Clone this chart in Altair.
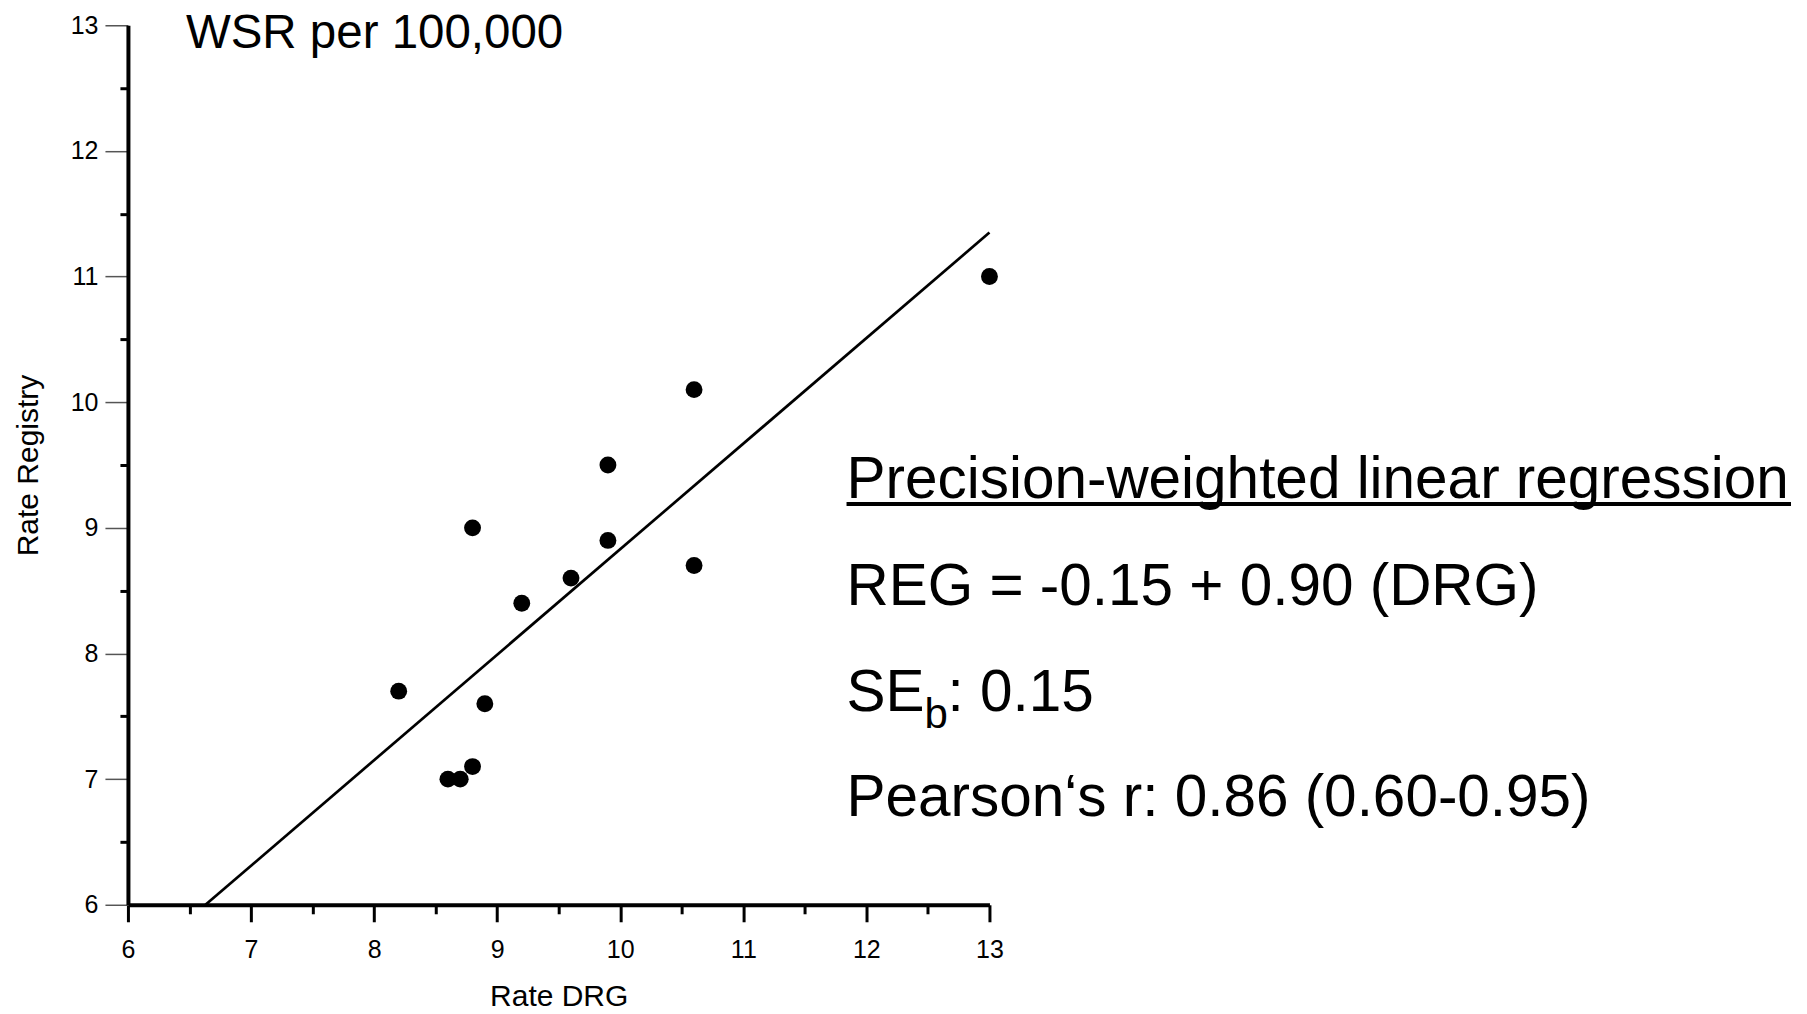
import altair as alt
import pandas as pd

# Data
rate_drg = [13.0, 10.6, 9.9, 8.8, 9.9, 10.6, 9.6, 9.2, 8.2, 8.9, 8.6, 8.7, 8.8]
rate_registry = [11.0, 10.1, 9.5, 9.0, 8.9, 8.7, 8.6, 8.4, 7.7, 7.6, 7.0, 7.0, 7.1]

fit_x = [6.63, 13.0]
fit_y = [6.0, 11.35]

tick_values = [6, 6.5, 7, 7.5, 8, 8.5, 9, 9.5, 10, 10.5, 11, 11.5, 12, 12.5, 13]
axis_domain = [6, 13]

header_text = "WSR per 100,000"
stat_title = "Precision-weighted linear regression"
stat_eq = "REG = -0.15 + 0.90 (DRG)"
stat_se_main = "SE"
stat_se_sub = "b"
stat_se_val = ": 0.15"
stat_r = "Pearson\u2018s r: 0.86 (0.60-0.95)"

FONT = "Liberation Sans"

points_df = pd.DataFrame({"drg": rate_drg, "reg": rate_registry})
fit_df = pd.DataFrame({"drg": fit_x, "reg": fit_y})
dummy = pd.DataFrame({"a": [0]})

half = "datum.value % 1 !== 0"
label_expr = "datum.value % 1 === 0 ? format(datum.value, 'd') : ''"

x_axis = alt.Axis(
    values=tick_values,
    labelExpr=label_expr,
    grid=False,
    domainColor="black",
    domainWidth=4,
    tickColor="black",
    tickWidth=3,
    tickSize={"condition": {"test": half, "value": 9}, "value": 17},
    labelPadding=16,
    labelFontSize=25,
    labelFont=FONT,
    labelColor="black",
    labelFlush=False,
    labelOverlap=False,
    title="Rate DRG",
    titleFont=FONT,
    titleFontSize=30,
    titleFontWeight="normal",
    titleColor="black",
    titleX=431,
    titleY=101,
    titleBaseline="alphabetic",
    titleAlign="center",
)

y_axis = alt.Axis(
    values=tick_values,
    labelExpr=label_expr,
    grid=False,
    domainColor="black",
    domainWidth=4,
    tickColor={"condition": {"test": half, "value": "black"}, "value": "#555555"},
    tickWidth={"condition": {"test": half, "value": 3}, "value": 1.5},
    tickSize={"condition": {"test": half, "value": 8}, "value": 23},
    labelPadding=7,
    labelFontSize=25,
    labelFont=FONT,
    labelColor="black",
    labelFlush=False,
    labelOverlap=False,
    title="Rate Registry",
    titleFont=FONT,
    titleFontSize=30,
    titleFontWeight="normal",
    titleColor="black",
    titleAngle=270,
    titleX=-90,
    titleY=440,
    titleBaseline="alphabetic",
    titleAlign="center",
)

x_scale = alt.Scale(domain=axis_domain, nice=False, zero=False)
y_scale = alt.Scale(domain=axis_domain, nice=False, zero=False)

points = alt.Chart(points_df).mark_circle(size=285, color="black", opacity=1).encode(
    x=alt.X("drg:Q", scale=x_scale, axis=x_axis),
    y=alt.Y("reg:Q", scale=y_scale, axis=y_axis),
)

fit = alt.Chart(fit_df).mark_line(color="black", strokeWidth=2.7).encode(
    x=alt.X("drg:Q", scale=x_scale),
    y=alt.Y("reg:Q", scale=y_scale),
)

def label(text, x, y, size):
    return alt.Chart(dummy).mark_text(
        text=text, font=FONT, fontSize=size, color="black",
        align="left", baseline="alphabetic",
    ).encode(x=alt.value(x), y=alt.value(y))

header = label(header_text, 58, 23, 47.5)
t1 = label(stat_title, 719, 473, 58.5)
underline = alt.Chart(dummy).mark_rule(color="black", strokeWidth=4).encode(
    x=alt.value(719), x2=alt.value(1664), y=alt.value(479)
)
t2 = label(stat_eq, 719, 580, 58.5)
t3a = label(stat_se_main, 719, 686, 58.5)
t3b = label(stat_se_sub, 797, 703, 42)
t3c = label(stat_se_val, 820, 686, 58.5)
t4 = label(stat_r, 719, 791, 58.5)

chart = alt.layer(
    fit, points, header, t1, underline, t2, t3a, t3b, t3c, t4
).properties(
    width=862,
    height=880,
    background="white",
    padding={"left": 120, "top": 17, "right": 810, "bottom": 108},
    autosize=alt.AutoSizeParams(type="none"),
).configure_view(strokeWidth=0, strokeOpacity=0)

chart.save("out.html", embed_options={"renderer": "svg", "actions": False})
